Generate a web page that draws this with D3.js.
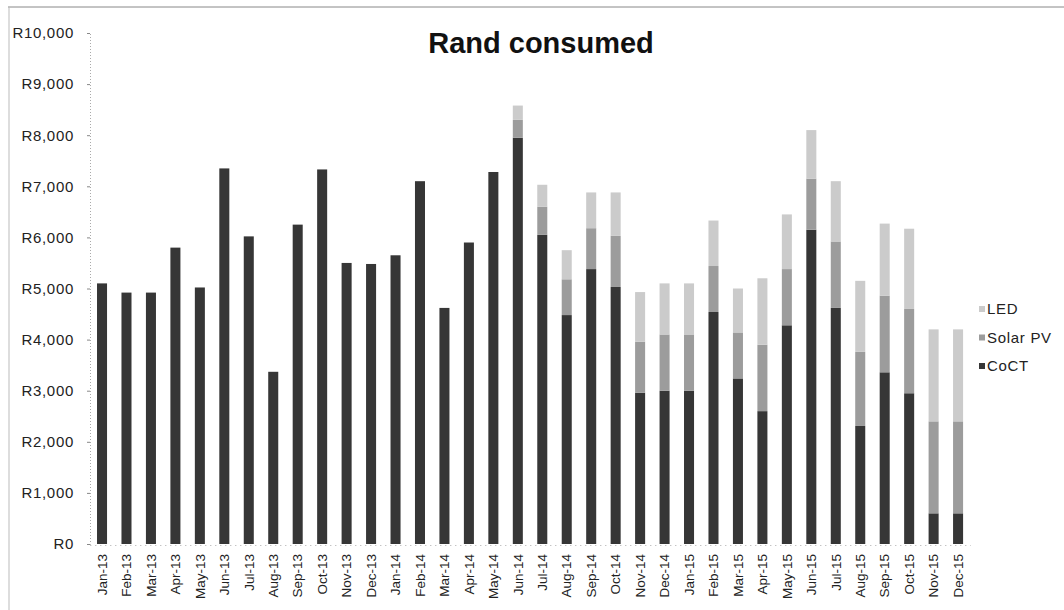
<!DOCTYPE html>
<html>
<head>
<meta charset="utf-8">
<script src="https://cdn.jsdelivr.net/npm/d3@7"></script>
<style>
  html, body { margin: 0; padding: 0; background: #fff; }
  svg { display: block; }
  text { font-family: Arial, "Liberation Sans", sans-serif; }
</style>
</head>
<body>
<svg id="chart" width="1064" height="610"></svg>
<script>
const months = ["Jan-13","Feb-13","Mar-13","Apr-13","May-13","Jun-13","Jul-13","Aug-13","Sep-13","Oct-13","Nov-13","Dec-13",
                "Jan-14","Feb-14","Mar-14","Apr-14","May-14","Jun-14","Jul-14","Aug-14","Sep-14","Oct-14","Nov-14","Dec-14",
                "Jan-15","Feb-15","Mar-15","Apr-15","May-15","Jun-15","Jul-15","Aug-15","Sep-15","Oct-15","Nov-15","Dec-15"];
const coct  = [5100,4920,4920,5800,5020,7350,6020,3370,6250,7330,5500,5480,
               5650,7100,4620,5900,7280,7950,6050,4480,5380,5030,2960,3000,
               3000,4540,3240,2600,4280,6150,4620,2310,3360,2950,600,600];
const solar = [0,0,0,0,0,0,0,0,0,0,0,0,
               0,0,0,0,0,350,550,700,800,1000,1000,1100,
               1100,900,900,1300,1100,1000,1300,1450,1500,1650,1800,1800];
const led   = [0,0,0,0,0,0,0,0,0,0,0,0,
               0,0,0,0,0,280,430,570,700,850,970,1000,
               1000,890,860,1300,1070,950,1180,1390,1410,1570,1800,1800];
const seriesNames = ["CoCT","Solar PV","LED"];
const yTicks = [0,1000,2000,3000,4000,5000,6000,7000,8000,9000,10000];
const colors = {"CoCT":"#363636","Solar PV":"#9c9c9c","LED":"#cbcbcb"};

const rows = months.map((m,i) => ({month:m, "CoCT":coct[i], "Solar PV":solar[i], "LED":led[i]}));
const stack = d3.stack().keys(seriesNames)(rows);

const svg = d3.select("#chart");
const x = d3.scaleBand().domain(months).range([89.8, 970.3]).paddingInner(0.59).paddingOuter(0.295);
const y = d3.scaleLinear().domain([0,10000]).range([544, 33]);

// frame remnants
svg.append("line").attr("x1",8).attr("x2",1064).attr("y1",7).attr("y2",7)
   .attr("stroke","#888").attr("stroke-width",1);
svg.append("line").attr("x1",9).attr("x2",9).attr("y1",7).attr("y2",610)
   .attr("stroke","#bbb").attr("stroke-width",1);

// title
svg.append("text").attr("x",541).attr("y",53).attr("text-anchor","middle")
   .attr("font-size",29).attr("font-weight","bold").attr("fill","#111").text("Rand consumed");

// y axis
const yAxis = d3.axisLeft(y).tickValues(yTicks).tickFormat(d => "R" + d3.format(",")(d)).tickSize(3).tickPadding(13);
const gy = svg.append("g").attr("transform","translate(90,0)").call(yAxis);
gy.select(".domain").attr("stroke","#aaa").attr("stroke-dasharray","1,2");
gy.selectAll(".tick line").attr("stroke","#888");
gy.selectAll("text").attr("font-size",15).attr("letter-spacing","0.7px").attr("fill","#222");

// bars
svg.append("g").selectAll("g").data(stack).join("g")
  .attr("fill", d => colors[d.key])
  .selectAll("rect").data(d => d).join("rect")
  .attr("x", d => x(d.data.month))
  .attr("width", x.bandwidth())
  .attr("y", d => y(d[1]))
  .attr("height", d => y(d[0]) - y(d[1]));

// x axis
const xAxis = d3.axisBottom(x).tickSize(0).tickPadding(6);
const gx = svg.append("g").attr("transform","translate(0,545)").call(xAxis);
gx.select(".domain").attr("stroke","#aaa").attr("stroke-dasharray","1,4");
gx.selectAll("text").attr("font-size",13.5).attr("fill","#222")
  .attr("text-anchor","end").attr("dy","0.35em")
  .attr("transform","translate(0,5) rotate(-90)")
  .attr("x",-4).attr("y",0);

// legend
const legendItems = ["LED","Solar PV","CoCT"];
const lg = svg.append("g").attr("transform","translate(979,309)");
legendItems.forEach((k,i) => {
  const g = lg.append("g").attr("transform",`translate(0,${i*28.5})`);
  g.append("rect").attr("x",0).attr("y",-3).attr("width",6).attr("height",6).attr("fill",colors[k]);
  g.append("text").attr("x",8).attr("y",0).attr("dy","0.35em").attr("font-size",15)
    .attr("letter-spacing","0.7px").attr("fill","#222").text(k);
});
</script>
</body>
</html>
